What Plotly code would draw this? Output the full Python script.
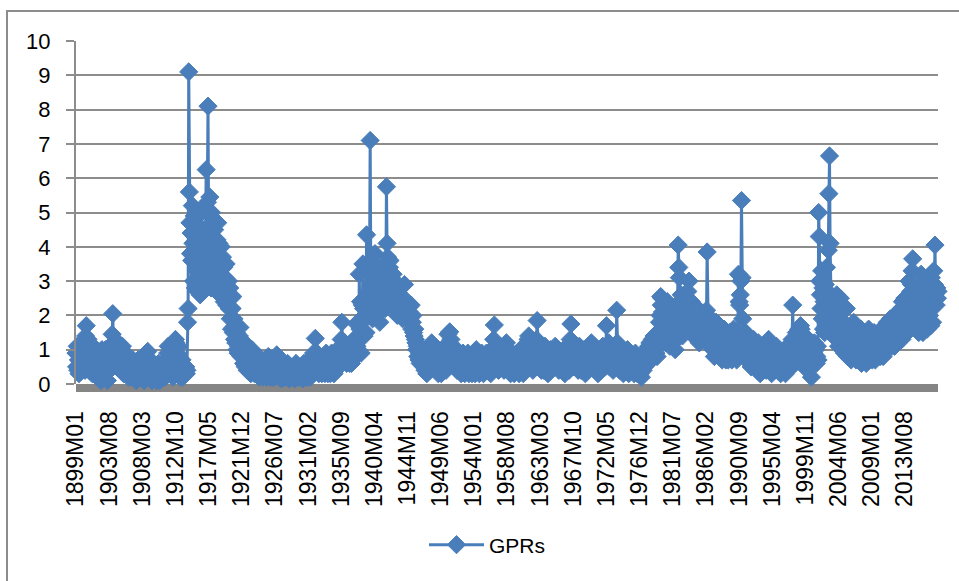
import plotly.graph_objects as go

# ---- data (monthly GPR index) ----
gpr_1899_1913 = [
    0.9, 0.5, 1.1, 0.4, 0.7, 0.3, 0.8, 0.5, 1.0, 0.4, 0.6, 0.9,
    0.5, 1.2, 0.7, 0.4, 1.4, 1.7, 1.1, 0.6, 1.3, 0.8, 0.4, 0.9,
    1.0, 0.5, 0.7, 0.3, 0.9, 0.6, 0.4, 0.8, 0.3, 0.6, 1.0, 0.5,
    0.4, 0.7, 0.2, 0.9, 0.5, 0.1, 0.6, 1.0, 0.4, 0.7, 0.3, 0.8,
    0.5, 1.0, 0.3, 0.7, 0.1, 0.6, 0.9, 0.4, 1.1, 0.5, 0.8, 0.6,
    1.45, 2.05, 1.2, 0.8, 1.1, 0.6, 0.9, 1.0, 0.5, 0.8, 1.2, 0.7,
    0.9, 0.5, 1.0, 0.4, 0.8, 1.1, 0.6, 0.3, 0.7, 0.5, 0.9, 0.4,
    0.6, 0.3, 0.5, 0.2, 0.7, 0.4, 0.3, 0.6, 0.2, 0.5, 0.3, 0.7,
    0.4, 0.2, 0.6, 0.3, 0.1, 0.5, 0.3, 0.7, 0.2, 0.4, 0.6, 0.3,
    0.5, 0.2, 0.4, 0.6, 0.3, 0.1, 0.5, 0.4, 0.7, 0.8, 0.5, 0.95,
    0.6, 0.3, 0.7, 0.4, 0.2, 0.5, 0.1, 0.4, 0.3, 0.6, 0.2, 0.5,
    0.3, 0.5, 0.1, 0.4, 0.2, 0.6, 0.3, 0.1, 0.5, 0.2, 0.4, 0.3,
    0.2, 0.5, 0.3, 0.6, 0.2, 0.4, 0.7, 0.3, 0.9, 1.1, 0.6, 0.8,
    0.5, 0.9, 0.3, 1.0, 0.6, 0.2, 0.8, 0.4, 1.0, 1.3, 1.2, 0.7,
    0.9, 0.4, 1.1, 0.3, 0.6, 0.2, 0.5, 0.3, 0.7, 0.2, 0.4, 0.3,
]
gpr_1914_1921 = [
    0.4, 0.3, 0.5, 0.3, 0.4, 1.8, 2.2, 9.1, 5.6, 4.7, 3.8, 4.4,
    3.6, 5.2, 4.1, 3.0, 4.9, 3.6, 2.8, 4.3, 3.3, 4.6, 2.7, 3.9,
    3.2, 4.6, 2.6, 3.8, 5.0, 3.4, 4.3, 2.7, 3.7, 4.4, 3.0, 4.1,
    6.25, 3.6, 5.3, 8.1, 4.6, 3.4, 5.45, 4.0, 2.8, 5.0, 3.5, 4.3,
    3.8, 3.0, 4.5, 3.1, 4.0, 2.7, 4.2, 4.7, 3.4, 4.1, 2.9, 3.6,
    3.2, 4.0, 2.6, 3.7, 2.9, 3.4, 2.4, 3.1, 2.5, 3.5, 2.3, 2.7,
    2.6, 3.0, 2.2, 2.8, 1.9, 2.5, 1.6, 2.2, 2.55, 1.5, 1.9, 1.3,
    1.7, 1.2, 1.5, 1.0, 1.3, 0.9, 1.1, 1.4, 1.65, 1.0, 0.8, 1.2,
]
gpr_1922_1935 = [
    0.9, 1.1, 0.6, 0.8, 1.2, 0.5, 0.7, 1.0, 0.4, 0.8, 0.6, 0.9,
    0.5, 0.8, 0.3, 0.7, 1.0, 0.4, 0.6, 0.9, 0.3, 0.5, 0.7, 0.4,
    0.6, 0.3, 0.8, 0.4, 0.2, 0.6, 0.5, 0.3, 0.7, 0.4, 0.2, 0.5,
    0.4, 0.7, 0.3, 0.5, 0.2, 0.6, 0.4, 0.8, 0.3, 0.5, 0.2, 0.4,
    0.3, 0.5, 0.2, 0.6, 0.4, 0.2, 0.5, 0.3, 0.7, 0.85, 0.4, 0.3,
    0.5, 0.2, 0.6, 0.3, 0.4, 0.15, 0.5, 0.3, 0.2, 0.6, 0.3, 0.4,
    0.2, 0.5, 0.3, 0.6, 0.2, 0.4, 0.15, 0.3, 0.5, 0.2, 0.4, 0.3,
    0.4, 0.2, 0.5, 0.15, 0.3, 0.6, 0.2, 0.4, 0.3, 0.5, 0.2, 0.3,
    0.3, 0.5, 0.2, 0.4, 0.15, 0.3, 0.6, 0.2, 0.4, 0.3, 0.5, 0.2,
    0.4, 0.2, 0.5, 0.3, 0.6, 0.2, 0.4, 0.5, 0.8, 0.6, 0.9, 0.5,
    0.7, 1.33, 0.8, 0.5, 0.9, 0.4, 0.6, 0.3, 0.7, 0.5, 0.4, 0.6,
    0.3, 0.6, 0.8, 0.4, 0.7, 0.3, 0.5, 0.9, 0.4, 0.6, 0.3, 0.5,
    0.4, 0.7, 0.3, 0.6, 0.9, 0.4, 0.8, 0.5, 0.3, 0.7, 0.4, 0.9,
    0.5, 0.8, 0.6, 1.0, 0.5, 0.7, 0.9, 1.1, 1.3, 1.8, 1.0, 0.8,
]
gpr_1936_1946 = [
    0.7, 0.9, 1.2, 0.8, 1.0, 0.6, 1.1, 0.8, 0.7, 1.0, 0.6, 0.9,
    0.8, 0.6, 1.0, 0.7, 1.1, 0.8, 1.3, 1.0, 0.9, 1.76, 1.1, 1.4,
    1.0, 1.3, 3.2, 1.6, 2.4, 0.9, 1.5, 2.3, 3.5, 2.2, 1.4, 2.0,
    1.9, 1.5, 4.35, 3.3, 2.6, 2.2, 2.0, 3.5, 7.1, 3.4, 2.6, 2.2,
    1.9, 2.4, 2.1, 3.1, 3.8, 3.5, 2.9, 2.5, 3.0, 2.6, 2.3, 2.1,
    1.8, 2.3, 2.6, 3.0, 2.7, 3.4, 2.9, 2.4, 2.6, 2.2, 2.8, 5.75,
    4.1, 3.7, 3.3, 2.9, 3.4, 3.6, 3.0, 3.1, 2.7, 2.9, 3.2, 2.5,
    2.7, 2.4, 2.8, 2.2, 2.6, 2.0, 2.9, 2.5, 2.8, 2.1, 2.5, 2.3,
    2.0, 2.4, 1.9, 2.3, 2.5, 2.9, 2.4, 2.1, 1.9, 2.3, 2.0, 2.3,
    2.1, 2.25, 1.9, 1.8, 2.3, 1.6, 1.8, 2.0, 1.5, 1.4, 1.6, 1.3,
    1.2, 1.0, 1.1, 0.8, 1.0, 0.7, 0.9, 0.6, 0.8, 0.9, 0.6, 0.8,
]
gpr_1947_1978 = [
    0.7, 0.5, 0.9, 0.4, 0.6, 0.8, 0.3, 0.7, 0.5, 1.0, 0.6, 0.4,
    0.8, 1.0, 1.2, 0.7, 0.9, 1.1, 0.6, 0.8, 1.0, 0.5, 0.7, 0.4,
    0.6, 0.3, 0.8, 0.5, 0.4, 0.7, 0.3, 0.6, 0.9, 0.4, 0.5, 0.7,
    0.5, 0.8, 0.4, 0.6, 0.9, 1.45, 1.2, 1.0, 1.52, 1.1, 1.3, 0.9,
    1.0, 0.7, 1.1, 0.6, 0.8, 0.5, 0.9, 0.6, 0.4, 0.8, 0.5, 0.7,
    0.6, 0.4, 0.8, 0.3, 0.7, 0.5, 0.9, 0.4, 0.6, 0.3, 0.8, 0.5,
    0.7, 0.4, 0.9, 0.5, 0.3, 0.6, 0.8, 0.4, 0.5, 0.3, 0.7, 0.4,
    0.5, 0.8, 0.3, 0.6, 1.0, 0.4, 0.7, 0.5, 0.9, 0.3, 0.6, 0.8,
    0.6, 0.9, 0.4, 0.7, 0.3, 0.8, 0.5, 0.6, 0.4, 0.9, 0.5, 0.7,
    0.4, 0.8, 0.5, 0.7, 0.3, 0.6, 0.9, 1.0, 0.8, 1.3, 1.72, 1.1,
    0.9, 0.6, 1.0, 0.5, 0.8, 0.4, 0.7, 1.1, 0.6, 0.9, 0.5, 0.7,
    0.5, 0.8, 0.4, 0.7, 1.0, 0.6, 1.2, 0.8, 1.0, 0.5, 0.7, 0.4,
    0.6, 0.3, 0.8, 0.5, 0.9, 0.4, 0.7, 0.3, 0.6, 0.8, 0.4, 0.5,
    0.7, 0.4, 0.6, 0.3, 0.9, 1.0, 0.5, 0.8, 0.4, 0.7, 0.3, 0.6,
    0.8, 0.4, 1.0, 0.6, 1.1, 0.7, 1.3, 1.4, 0.9, 1.2, 0.6, 0.8,
    0.5, 0.9, 0.4, 0.7, 1.0, 0.6, 0.8, 1.1, 1.3, 1.85, 1.2, 0.9,
    0.7, 1.1, 0.5, 0.8, 0.4, 0.9, 0.6, 1.0, 0.4, 0.7, 1.1, 0.5,
    0.8, 0.4, 0.7, 0.3, 0.9, 0.5, 0.6, 1.0, 0.4, 0.8, 0.5, 0.7,
    0.6, 1.0, 0.7, 1.1, 0.5, 0.8, 0.6, 1.0, 0.9, 0.4, 0.7, 0.5,
    0.8, 0.5, 0.9, 0.4, 0.7, 1.0, 0.6, 0.3, 0.8, 0.5, 0.9, 0.6,
    0.5, 0.8, 0.4, 0.9, 1.3, 1.75, 1.1, 0.8, 0.6, 1.0, 0.5, 0.7,
    0.9, 0.6, 1.0, 0.5, 0.8, 0.4, 0.7, 1.1, 0.6, 0.9, 0.4, 0.7,
    0.5, 0.8, 0.4, 1.0, 0.6, 0.3, 0.7, 0.5, 0.9, 0.4, 0.6, 0.8,
    0.6, 0.9, 0.5, 1.2, 0.7, 1.0, 0.5, 0.8, 1.1, 0.6, 0.4, 0.7,
    0.5, 0.8, 0.3, 0.6, 1.0, 0.5, 0.7, 0.4, 0.9, 0.6, 1.1, 0.7,
    0.6, 0.9, 0.5, 1.0, 1.7, 0.8, 0.6, 1.0, 1.2, 0.5, 0.8, 1.1,
    0.7, 0.5, 0.9, 0.4, 0.6, 0.8, 0.5, 0.7, 1.0, 2.15, 1.2, 0.8,
    0.6, 0.9, 0.4, 0.7, 0.5, 1.0, 0.8, 0.6, 0.3, 0.7, 0.5, 0.9,
    0.5, 0.8, 0.4, 1.0, 0.6, 0.3, 0.7, 0.5, 0.9, 0.4, 0.6, 0.8,
    0.4, 0.7, 0.3, 0.6, 0.9, 0.5, 0.8, 0.3, 0.6, 0.4, 0.7, 0.5,
    0.3, 0.6, 0.2, 0.5, 0.8, 0.4, 0.7, 0.5, 0.9, 0.6, 1.0, 0.7,
    0.9, 0.6, 1.1, 0.8, 1.2, 0.7, 1.0, 0.9, 1.3, 0.8, 1.1, 1.4,
]
gpr_1979_1999 = [
    1.0, 1.3, 0.9, 1.2, 0.8, 1.5, 1.1, 1.4, 1.8, 2.0, 2.55, 2.3,
    2.5, 2.1, 1.6, 2.3, 1.4, 1.8, 1.2, 1.6, 2.0, 2.4, 1.5, 1.3,
    1.6, 1.1, 1.9, 1.3, 2.1, 1.5, 1.2, 1.8, 1.4, 2.2, 1.0, 1.5,
    1.3, 1.7, 2.3, 4.05, 3.4, 3.1, 2.4, 2.0, 2.6, 1.6, 1.4, 1.9,
    1.5, 2.1, 1.8, 2.5, 1.6, 2.2, 1.9, 2.7, 2.3, 3.0, 2.4, 2.0,
    1.7, 2.4, 1.5, 2.1, 1.8, 2.3, 1.4, 1.9, 1.6, 2.2, 1.3, 1.8,
    1.5, 2.0, 1.2, 1.7, 1.4, 2.1, 1.6, 1.3, 1.8, 2.0, 1.4, 1.6,
    1.8, 1.4, 2.15, 3.85, 2.0, 1.5, 1.3, 1.7, 1.1, 1.6, 1.3, 1.2,
    1.5, 1.0, 1.3, 0.8, 1.6, 1.2, 1.8, 1.4, 1.0, 1.7, 1.2, 0.9,
    1.3, 0.8, 1.5, 1.1, 0.7, 1.4, 1.0, 1.6, 0.9, 1.2, 0.7, 1.1,
    0.9, 1.3, 0.7, 1.1, 1.5, 0.8, 1.0, 1.2, 0.7, 1.4, 0.9, 1.6,
    1.1, 0.8, 1.3, 1.0, 0.7, 1.2, 1.5, 3.2, 2.4, 2.3, 2.6, 3.0,
    5.35, 3.1, 1.9, 1.4, 1.1, 0.9, 1.2, 1.5, 0.8, 1.0, 0.7, 1.1,
    0.8, 1.2, 0.6, 1.0, 0.5, 0.9, 1.1, 0.7, 1.3, 0.6, 0.9, 0.5,
    0.7, 1.0, 0.4, 0.8, 1.2, 0.6, 0.9, 0.3, 0.7, 1.1, 0.4, 0.8,
    0.6, 0.9, 0.5, 1.1, 0.7, 0.4, 1.0, 0.6, 0.8, 1.3, 0.5, 0.7,
    0.5, 0.8, 0.3, 0.7, 1.0, 0.6, 0.9, 0.4, 0.8, 0.5, 1.1, 0.6,
    0.4, 0.7, 1.0, 0.5, 0.8, 0.3, 0.6, 0.9, 0.5, 0.7, 0.4, 0.8,
    0.6, 0.3, 0.8, 0.5, 0.9, 0.4, 0.7, 0.5, 1.0, 0.6, 1.2, 0.8,
    1.3, 2.3, 1.1, 0.8, 1.0, 0.6, 0.9, 1.5, 0.7, 1.0, 1.2, 1.6,
    0.9, 1.2, 1.7, 1.6, 1.1, 0.8, 0.6, 0.9, 0.5, 0.8, 1.0, 0.7,
]
gpr_2000_2018 = [
    0.8, 1.1, 0.6, 1.3, 0.7, 1.0, 0.5, 0.9, 0.2, 1.2, 0.8, 0.6,
    0.9, 1.2, 0.7, 1.0, 0.6, 0.8, 1.1, 0.7, 5.0, 4.3, 3.0, 2.6,
    2.2, 3.3, 1.9, 2.8, 1.6, 2.4, 1.5, 2.9, 2.5, 3.4, 2.1, 2.7,
    3.9, 5.55, 6.65, 4.1, 2.5, 2.0, 1.7, 2.2, 1.4, 1.9, 2.3, 1.8,
    1.5, 2.1, 2.6, 2.4, 1.9, 1.1, 2.0, 1.6, 2.5, 1.3, 1.8, 1.2,
    1.6, 1.0, 1.8, 0.9, 1.4, 1.7, 2.2, 1.3, 0.8, 1.5, 1.2, 0.9,
    1.3, 1.6, 0.7, 1.2, 1.0, 1.4, 1.8, 1.5, 0.9, 1.7, 0.7, 1.2,
    1.0, 1.5, 0.7, 1.3, 0.9, 1.1, 1.6, 0.6, 1.2, 1.4, 0.8, 1.1,
    0.8, 1.2, 1.0, 0.6, 1.4, 0.9, 1.1, 1.6, 0.7, 1.0, 1.3, 0.9,
    1.1, 0.7, 1.3, 0.8, 1.5, 1.0, 0.7, 1.2, 0.9, 1.4, 0.8, 1.3,
    0.9, 1.2, 0.8, 1.4, 1.0, 1.6, 1.1, 0.8, 1.3, 1.0, 1.7, 1.2,
    1.0, 1.5, 1.8, 1.2, 1.6, 1.1, 1.4, 1.9, 1.2, 1.5, 1.1, 1.7,
    1.3, 1.8, 1.1, 1.6, 2.0, 1.3, 1.7, 1.2, 2.1, 1.5, 1.9, 1.4,
    1.6, 2.2, 1.3, 2.4, 1.8, 1.5, 2.0, 2.5, 2.3, 1.6, 1.9, 1.5,
    1.8, 2.2, 3.0, 2.4, 2.0, 2.7, 2.9, 3.3, 3.65, 2.6, 2.3, 1.9,
    2.4, 1.6, 2.6, 2.2, 1.8, 2.5, 1.5, 2.3, 2.0, 2.7, 3.2, 2.6,
    2.2, 1.5, 2.8, 2.4, 1.8, 2.6, 3.0, 2.1, 1.6, 2.5, 2.9, 2.3,
    2.0, 2.6, 1.7, 3.1, 2.7, 1.8, 2.4, 3.3, 2.9, 4.05, 2.7, 2.3,
    2.8, 2.5, 2.7,
]

series_name = "GPRs"
tick_labels = [
    "1899M01", "1903M08", "1908M03", "1912M10", "1917M05", "1921M12",
    "1926M07", "1931M02", "1935M09", "1940M04", "1944M11", "1949M06",
    "1954M01", "1958M08", "1963M03", "1967M10", "1972M05", "1976M12",
    "1981M07", "1986M02", "1990M09", "1995M04", "1999M11", "2004M06",
    "2009M01", "2013M08",
]
y_ticks = list(range(0, 11))

gpr = (gpr_1899_1913 + gpr_1914_1921 + gpr_1922_1935 + gpr_1936_1946
       + gpr_1947_1978 + gpr_1979_1999 + gpr_2000_2018)

# monthly category labels 1899M01 ... one per value
months = []
for i in range(len(gpr)):
    yr, mo = 1899 + i // 12, i % 12 + 1
    months.append(f"{yr}M{mo:02d}")

# ---- layout geometry (pixels) ----
W, H = 959, 581
L, R, T, B = 76, 21, 41, 197
PW, PH = W - L - R, H - T - B


def px_x(p):
    return (p - L) / PW


def px_y(p):
    return (H - B - p) / PH


BLUE = "#4A7EBB"
GRAY = "#8C8C8C"
FONT = "Liberation Sans, Arial, sans-serif"

fig = go.Figure()
fig.add_trace(go.Scatter(
    x=months, y=gpr, name=series_name, mode="lines+markers",
    line=dict(color=BLUE, width=3),
    marker=dict(symbol="diamond", size=14, color=BLUE,
                line=dict(color=BLUE, width=1)),
    cliponaxis=False,
))

fig.update_layout(
    width=W, height=H,
    margin=dict(l=L, r=R, t=T, b=B, pad=0),
    paper_bgcolor="white", plot_bgcolor="white",
    font=dict(family=FONT, color="black"),
    showlegend=True,
    legend=dict(orientation="h", x=px_x(424), xanchor="left",
                y=px_y(545), yanchor="middle",
                font=dict(size=21, color="black"),
                itemwidth=55, bgcolor="rgba(0,0,0,0)"),
    xaxis=dict(type="category", range=[0, len(gpr) - 1],
               tickmode="array", tickvals=tick_labels, ticktext=tick_labels,
               tickangle=-90, tickfont=dict(size=23, color="black"),
               showgrid=False, zeroline=False, showline=False,
               ticks="outside", ticklen=17, tickcolor="rgba(0,0,0,0)"),
    yaxis=dict(range=[0, 10], tickmode="array", tickvals=y_ticks,
               tickfont=dict(size=22, color="black"),
               showgrid=True, gridcolor=GRAY, gridwidth=1.5,
               zeroline=False, showline=True, linecolor=GRAY, linewidth=2,
               ticks="outside", ticklen=8, tickcolor=GRAY, tickwidth=1.5,
               ticklabelstandoff=11),
    shapes=[
        # thick category-axis band under the zero line
        dict(type="rect", xref="paper", yref="paper",
             x0=0, x1=1, y0=px_y(392), y1=0,
             fillcolor="#858585", line=dict(width=0), layer="below"),
        # chart-area border (cropped at right and bottom)
        dict(type="rect", xref="paper", yref="paper",
             x0=px_x(7), x1=px_x(980), y0=px_y(600), y1=px_y(11),
             line=dict(color=GRAY, width=2), fillcolor="rgba(0,0,0,0)",
             layer="below"),
    ],
)

fig.write_html("out.html", config={"displayModeBar": False})

# remove the browser's default 8px page margin so the figure sits at (0, 0)
with open("out.html", "r", encoding="utf-8") as f:
    html = f.read()
html = html.replace("<head>", "<head><style>html,body{margin:0;padding:0;overflow:hidden;}</style>", 1)
with open("out.html", "w", encoding="utf-8") as f:
    f.write(html)
